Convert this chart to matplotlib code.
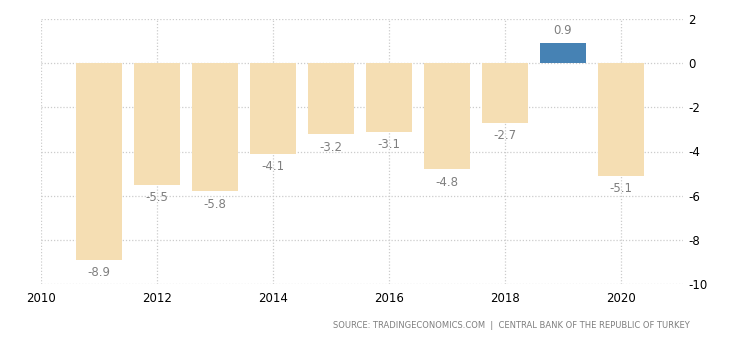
import matplotlib
matplotlib.use("Agg")
import matplotlib.pyplot as plt

years = [2011, 2012, 2013, 2014, 2015, 2016, 2017, 2018, 2019, 2020]
values = [-8.9, -5.5, -5.8, -4.1, -3.2, -3.1, -4.8, -2.7, 0.9, -5.1]
xticks = [2010, 2012, 2014, 2016, 2018, 2020]
yticks = [2, 0, -2, -4, -6, -8, -10]

plt.rcParams['font.family'] = ['Liberation Sans Narrow', 'DejaVu Sans']
plt.rcParams['axes.unicode_minus'] = False

fig = plt.figure(figsize=(7.3, 3.4), dpi=100)
ax = fig.add_axes([41/730, 1-284/340, 642/730, 265/340])

colors = ['#4682B4' if v > 0 else '#F5DEB3' for v in values]
ax.bar(years, values, width=0.8, color=colors, zorder=2)

for x, v in zip(years, values):
    off = -9.5 if v < 0 else 9.5
    ax.annotate(f"{v:.1f}", (x, v), xytext=(0, off), textcoords='offset points',
                ha='center', va='center', fontsize=8.5, color='#7f7f7f')

ax.set_xlim(2010, 2021.07)
ax.set_ylim(-10, 2)
ax.set_xticks(xticks)
ax.set_yticks(yticks)
ax.yaxis.tick_right()
ax.tick_params(axis='both', length=0, labelsize=8.5, colors='black', pad=4)
ax.tick_params(axis='x', pad=6)
for s in ax.spines.values():
    s.set_visible(False)
ax.grid(True, color='#cccccc', linestyle=(0, (1, 1.5)), linewidth=0.9, zorder=0)
ax.set_axisbelow(True)

fig.text(690/730, 1-325/340, "SOURCE: TRADINGECONOMICS.COM  |  CENTRAL BANK OF THE REPUBLIC OF TURKEY",
         ha='right', va='center', fontsize=6, color='#7f7f7f')

fig.savefig('out.png', dpi=100)
